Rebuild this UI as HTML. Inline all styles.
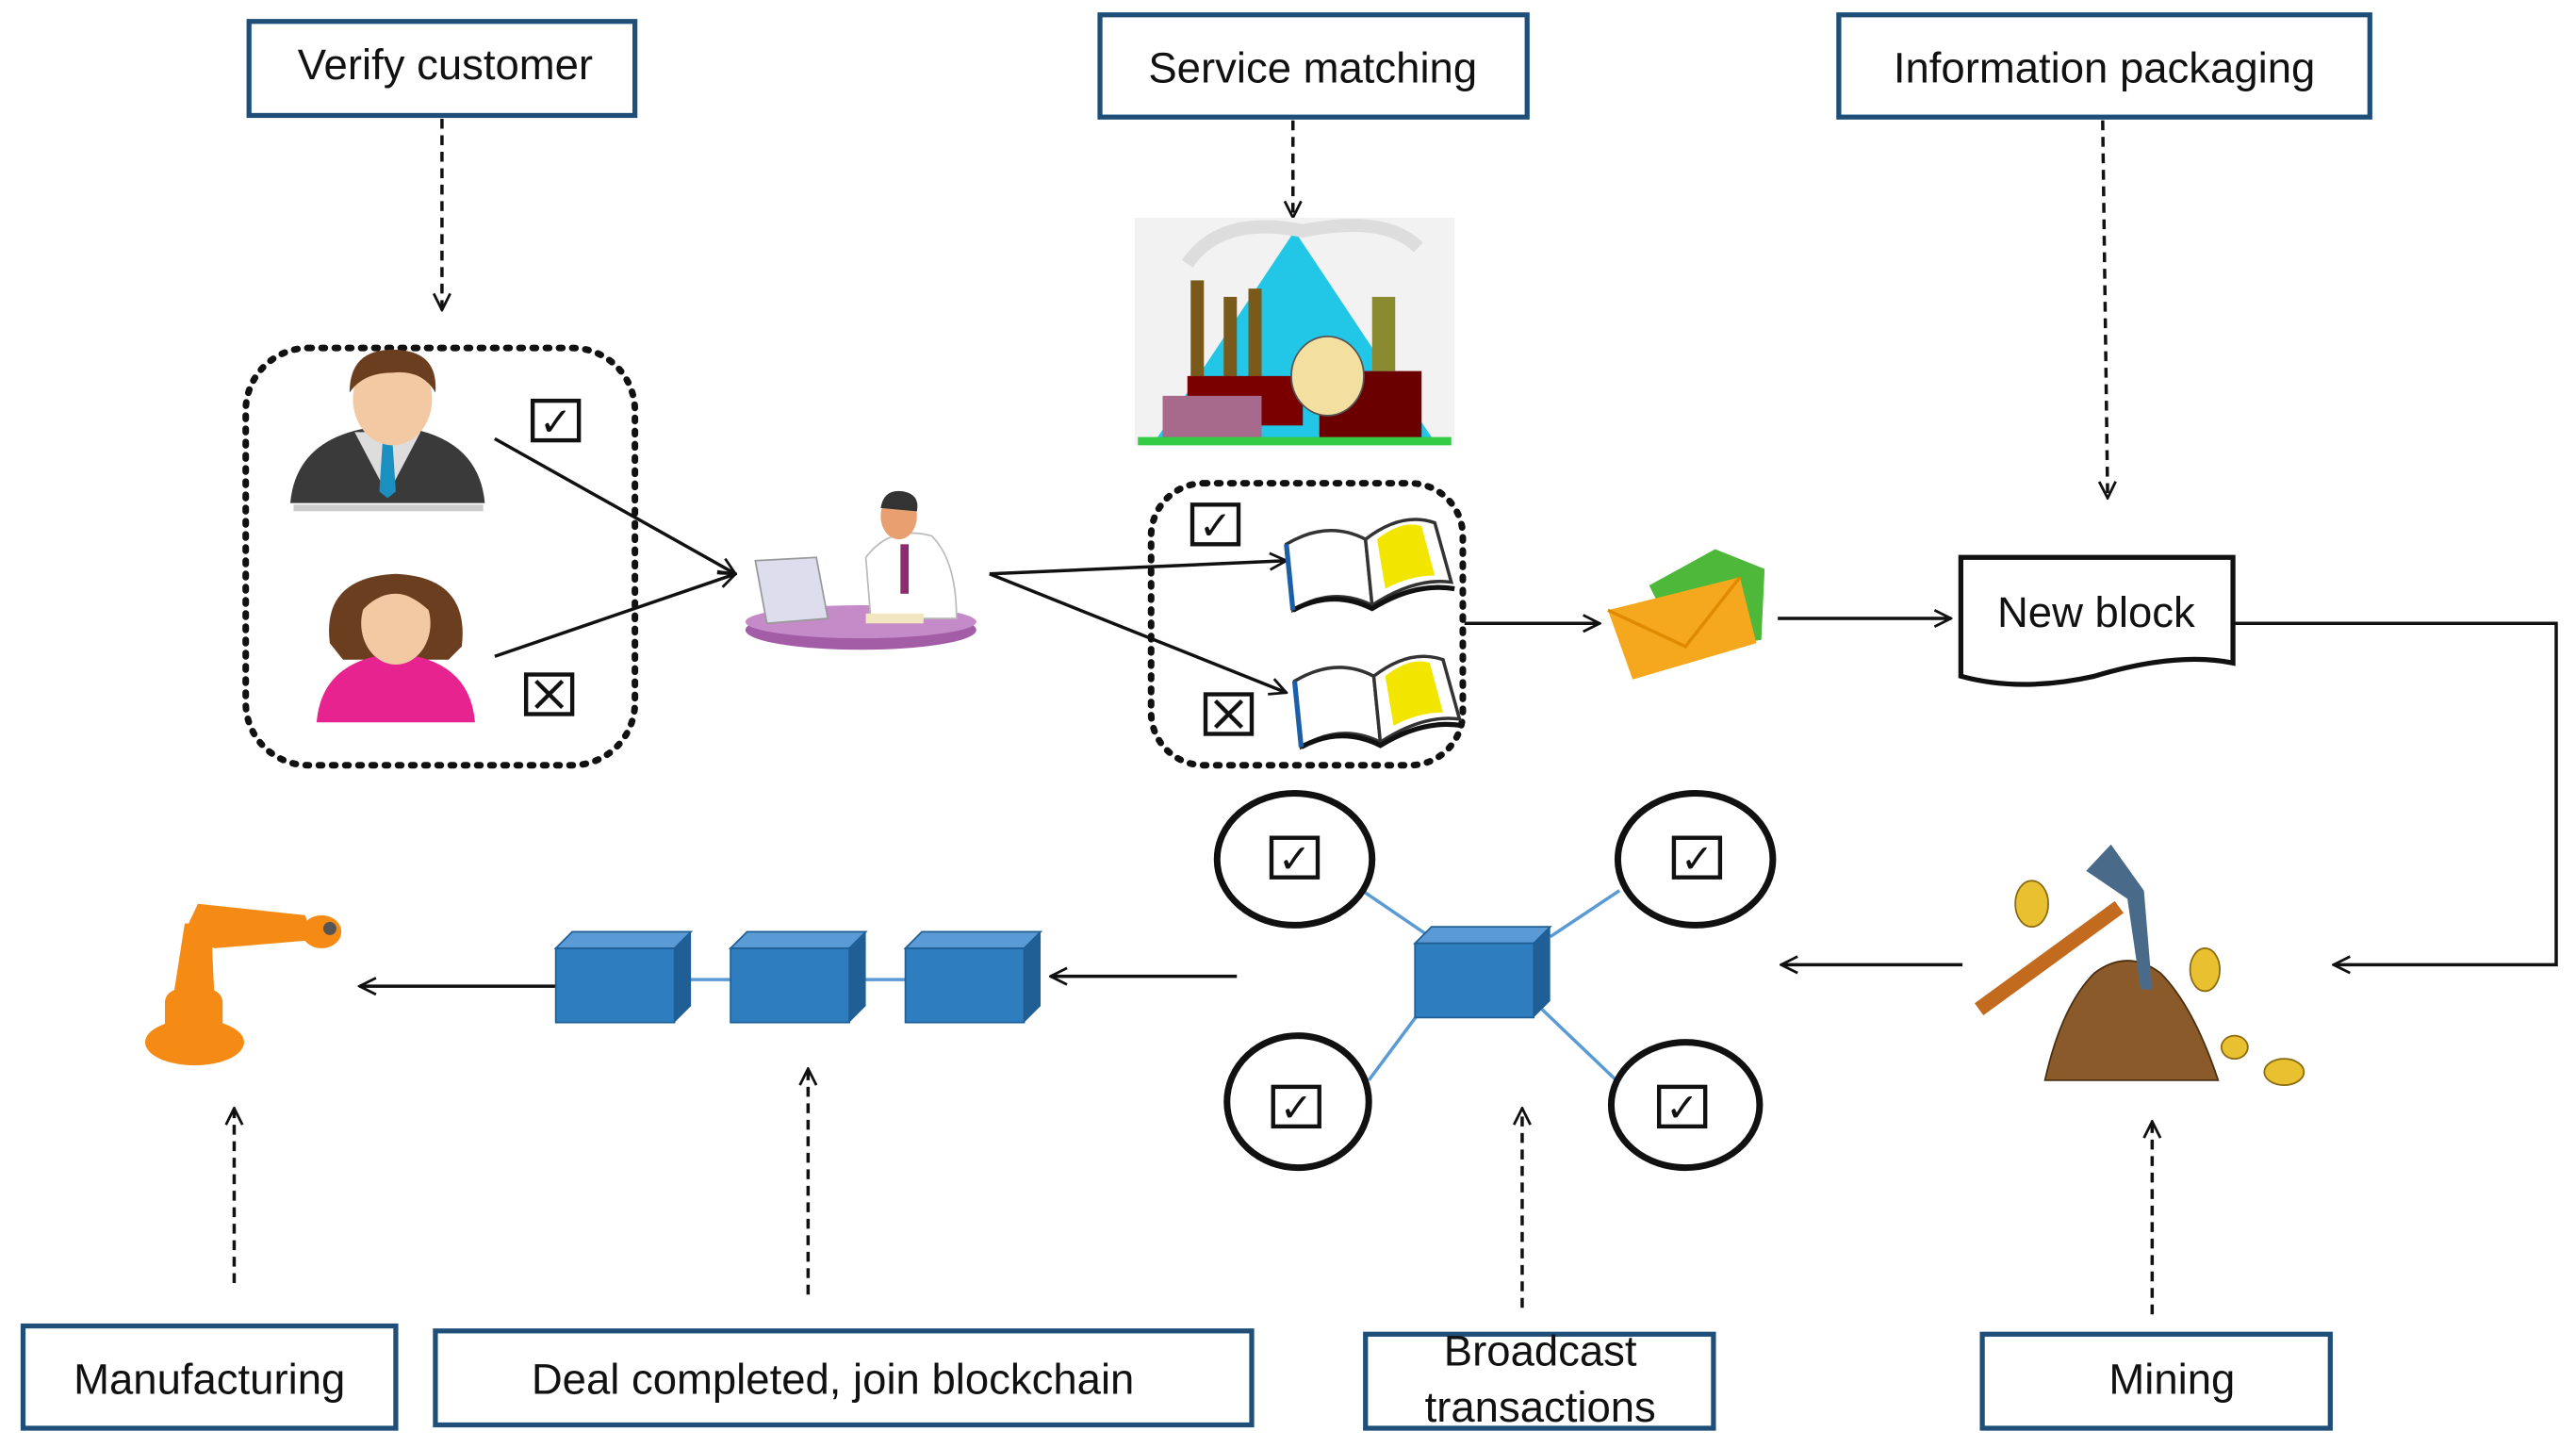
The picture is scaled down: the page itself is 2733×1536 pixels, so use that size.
<!DOCTYPE html>
<html><head><meta charset="utf-8"><style>
html,body{margin:0;padding:0;background:#fff;}
svg{display:block;}
text{font-family:"Liberation Sans",Arial,sans-serif;fill:#111;}
</style></head><body>
<svg width="2733" height="1536" viewBox="0 0 1562 878" preserveAspectRatio="none" xmlns="http://www.w3.org/2000/svg">
<defs>
<marker id="ah" viewBox="0 0 12 12" refX="11" refY="6" markerWidth="12" markerHeight="12" markerUnits="userSpaceOnUse" orient="auto">
<path d="M1,1 L11,6 L1,11" fill="none" stroke="#111" stroke-width="1.6"/></marker>
<g id="cube">
<polygon points="0,10 10,0 82,0 72,10" fill="#5b9bd5" stroke="#1f5f96" stroke-width="1"/>
<polygon points="72,10 82,0 82,45 72,55" fill="#1f5f96"/>
<rect x="0" y="10" width="72" height="45" fill="#2e7dbf" stroke="#1f5f96" stroke-width="1"/>
</g>
<g id="chk"><rect x="0" y="0" width="28" height="24" fill="#fff" stroke="#111" stroke-width="2.5"/><text x="14" y="21" font-size="24" text-anchor="middle" font-family="DejaVu Sans">✓</text></g>
<g id="xb"><rect x="0" y="0" width="28" height="24" fill="#fff" stroke="#111" stroke-width="2.5"/><path d="M6,4 L22,20 M22,4 L6,20" stroke="#111" stroke-width="2.5"/></g>
<g id="book">
<path d="M0,25 Q25,10 48,22 L52,62 Q28,50 4,65 Z" fill="#fff" stroke="#333" stroke-width="2"/>
<path d="M48,22 Q70,5 90,12 L100,48 Q78,45 52,62 Z" fill="#fff" stroke="#333" stroke-width="2"/>
<path d="M55,22 Q70,10 82,14 L90,44 Q75,44 60,52 Z" fill="#f2e600"/>
<path d="M4,65 Q28,52 52,64 Q78,48 102,52" fill="none" stroke="#111" stroke-width="3"/>
<path d="M0,25 L4,65" stroke="#1a5fa8" stroke-width="3"/>
</g>
</defs>

<!-- top boxes -->
<g fill="#fff" stroke="#1f4e79" stroke-width="3">
<rect x="151" y="13" width="234" height="57"/>
<rect x="667" y="9" width="259" height="62"/>
<rect x="1115" y="9" width="322" height="62"/>
<rect x="14" y="804" width="226" height="62"/>
<rect x="264" y="807" width="495" height="57"/>
<rect x="828" y="809" width="211" height="57"/>
<rect x="1202" y="809" width="211" height="57"/>
</g>
<text x="270" y="48" font-size="26" text-anchor="middle">Verify customer</text>
<text x="796" y="50" font-size="26" text-anchor="middle">Service matching</text>
<text x="1276" y="50" font-size="26" text-anchor="middle">Information packaging</text>
<text x="127" y="845" font-size="26" text-anchor="middle">Manufacturing</text>
<text x="505" y="845" font-size="26" text-anchor="middle">Deal completed, join blockchain</text>
<text x="934" y="828" font-size="26" text-anchor="middle">Broadcast</text>
<text x="934" y="862" font-size="26" text-anchor="middle">transactions</text>
<text x="1317" y="845" font-size="26" text-anchor="middle">Mining</text>

<!-- dashed connectors -->
<g stroke="#111" stroke-width="2" stroke-dasharray="6,4" fill="none" marker-end="url(#ah)">
<line x1="268" y1="72" x2="268" y2="188"/>
<line x1="784" y1="73" x2="784" y2="132"/>
<line x1="1275" y1="73" x2="1278" y2="302"/>
<line x1="142" y1="778" x2="142" y2="672"/>
<line x1="490" y1="785" x2="490" y2="648"/>
<line x1="923" y1="793" x2="923" y2="672"/>
<line x1="1305" y1="797" x2="1305" y2="680"/>
</g>

<!-- dotted groups -->
<rect x="149" y="211" width="236" height="253" rx="38" fill="none" stroke="#111" stroke-width="4" stroke-dasharray="2,6" stroke-linecap="round"/>
<rect x="698" y="293" width="189" height="171" rx="32" fill="none" stroke="#111" stroke-width="4" stroke-dasharray="2,6" stroke-linecap="round"/>

<!-- man -->
<path d="M176,305 Q180,262 235,258 Q290,262 294,305 Z" fill="#3a3a3a"/>
<path d="M215,262 L235,300 L255,262 Z" fill="#ddd"/>
<path d="M232,268 L238,268 L240,298 L235,302 L230,298 Z" fill="#1a8fc0"/>
<ellipse cx="238" cy="242" rx="24" ry="28" fill="#f3c9a4"/>
<path d="M212,238 Q212,212 238,212 Q266,212 264,238 Q256,224 238,226 Q220,226 212,238 Z" fill="#6b3e1f"/>
<rect x="178" y="306" width="115" height="4" fill="#ccc"/>
<!-- woman -->
<path d="M200,390 Q195,350 240,348 Q285,350 280,392 L272,400 L208,400 Z" fill="#6b3e1f"/>
<path d="M192,438 Q195,400 240,396 Q285,400 288,438 Z" fill="#e6238f"/>
<ellipse cx="240" cy="378" rx="21" ry="25" fill="#f3c9a4"/>
<path d="M218,372 Q222,350 240,352 Q258,352 262,372 Q250,360 240,360 Q228,360 218,372Z" fill="#6b3e1f"/>
<use href="#chk" x="323" y="243"/>
<use href="#xb" x="319" y="409"/>

<!-- arrows to worker -->
<g stroke="#111" stroke-width="2" fill="none" marker-end="url(#ah)">
<line x1="300" y1="266" x2="446" y2="348"/>
<line x1="300" y1="398" x2="446" y2="348"/>
<line x1="600" y1="348" x2="780" y2="340"/>
<line x1="600" y1="348" x2="780" y2="420"/>
<line x1="888" y1="378" x2="970" y2="378"/>
<line x1="1078" y1="375" x2="1183" y2="375"/>
<polyline points="1354,378 1550,378 1550,585 1415,585"/>
<line x1="1190" y1="585" x2="1080" y2="585"/>
<line x1="750" y1="592" x2="637" y2="592"/>
<line x1="337" y1="598" x2="218" y2="598"/>
</g>

<!-- worker at desk -->
<ellipse cx="522" cy="382" rx="70" ry="12" fill="#a35ca6"/>
<ellipse cx="522" cy="377" rx="70" ry="10" fill="#c58bc9"/>
<path d="M525,338 Q540,318 565,325 Q580,340 580,375 L528,375 Z" fill="#fff" stroke="#bbb"/>
<rect x="546" y="330" width="5" height="30" fill="#8c2b6e"/>
<ellipse cx="545" cy="313" rx="11" ry="14" fill="#e8a070"/>
<path d="M534,308 Q536,296 548,298 Q558,300 556,310 Z" fill="#333"/>
<polygon points="458,340 495,338 502,375 465,378" fill="#dde" stroke="#999"/>
<rect x="525" y="372" width="35" height="6" fill="#f2e6c0"/>

<!-- factory -->
<rect x="688" y="132" width="194" height="138" fill="#f2f2f2"/>
<polygon points="700,268 785,140 870,268" fill="#22c6e6"/>
<path d="M720,160 Q740,130 790,140 Q840,130 860,150" fill="none" stroke="#ddd" stroke-width="8"/>
<rect x="722" y="170" width="8" height="60" fill="#7a5a1a"/>
<rect x="742" y="180" width="8" height="50" fill="#7a5a1a"/>
<rect x="757" y="175" width="8" height="55" fill="#7a5a1a"/>
<rect x="720" y="228" width="70" height="30" fill="#7a0000"/>
<rect x="705" y="240" width="60" height="28" fill="#a86a8c"/>
<rect x="800" y="225" width="62" height="42" fill="#6b0000"/>
<rect x="832" y="180" width="14" height="45" fill="#8a8a30"/>
<ellipse cx="805" cy="228" rx="22" ry="24" fill="#f3e0a0" stroke="#555"/>
<rect x="690" y="265" width="190" height="5" fill="#33cc44"/>

<!-- books -->
<use href="#chk" x="723" y="306"/>
<use href="#xb" x="731" y="421"/>
<use href="#book" x="780" y="305"/>
<use href="#book" x="785" y="388"/>

<!-- envelope -->
<polygon points="1000,355 1040,333 1070,345 1068,388 1020,395" fill="#4db83a"/>
<polygon points="975,370 1055,350 1065,390 990,412" fill="#f5a81e"/>
<polyline points="975,370 1022,392 1055,350" fill="none" stroke="#e08a00" stroke-width="2"/>

<!-- new block -->
<path d="M1189,338 L1354,338 L1354,402 Q1320,395 1270,410 Q1225,420 1189,410 Z" fill="#fff" stroke="#111" stroke-width="3"/>
<text x="1271" y="380" font-size="26" text-anchor="middle">New block</text>

<!-- network -->
<g stroke="#5b9bd5" stroke-width="2">
<line x1="826" y1="540" x2="870" y2="570"/>
<line x1="982" y1="540" x2="940" y2="568"/>
<line x1="830" y1="655" x2="862" y2="612"/>
<line x1="980" y1="655" x2="935" y2="612"/>
</g>
<g fill="#fff" stroke="#111" stroke-width="4">
<ellipse cx="785" cy="521" rx="47" ry="40"/>
<ellipse cx="1028" cy="521" rx="47" ry="40"/>
<ellipse cx="787" cy="668" rx="43" ry="40"/>
<ellipse cx="1022" cy="670" rx="45" ry="38"/>
</g>
<use href="#chk" x="771" y="508"/>
<use href="#chk" x="1015" y="508"/>
<use href="#chk" x="772" y="659"/>
<use href="#chk" x="1006" y="659"/>
<use href="#cube" x="858" y="562"/>

<!-- chain -->
<line x1="410" y1="594" x2="560" y2="594" stroke="#5b9bd5" stroke-width="2"/>
<use href="#cube" x="337" y="565"/>
<use href="#cube" x="443" y="565"/>
<use href="#cube" x="549" y="565"/>

<!-- mining -->
<path d="M1240,655 Q1250,610 1270,590 Q1290,575 1310,590 Q1330,610 1345,655 Z" fill="#8b5a2b" stroke="#4a2e10"/>
<line x1="1200" y1="612" x2="1285" y2="550" stroke="#c26a1e" stroke-width="9"/>
<path d="M1265,528 L1280,512 L1300,540 L1305,600 L1298,600 L1290,545 Z" fill="#4a6a8a"/>
<ellipse cx="1232" cy="548" rx="10" ry="14" fill="#e8c030" stroke="#8a6a10"/>
<ellipse cx="1337" cy="588" rx="9" ry="13" fill="#e8c030" stroke="#8a6a10"/>
<ellipse cx="1385" cy="650" rx="12" ry="8" fill="#e8c030" stroke="#8a6a10"/>
<ellipse cx="1355" cy="635" rx="8" ry="7" fill="#e8c030" stroke="#8a6a10"/>

<!-- robot arm -->
<g fill="#f58a14">
<ellipse cx="118" cy="632" rx="30" ry="14"/>
<rect x="100" y="600" width="35" height="30" rx="8"/>
<path d="M105,605 L112,560 L128,560 L130,605 Z"/>
<path d="M112,565 L120,548 L185,555 L190,570 L130,575 Z"/>
<ellipse cx="195" cy="565" rx="12" ry="10"/>
</g>
<circle cx="200" cy="563" r="4" fill="#555"/>
</svg>
</body></html>
